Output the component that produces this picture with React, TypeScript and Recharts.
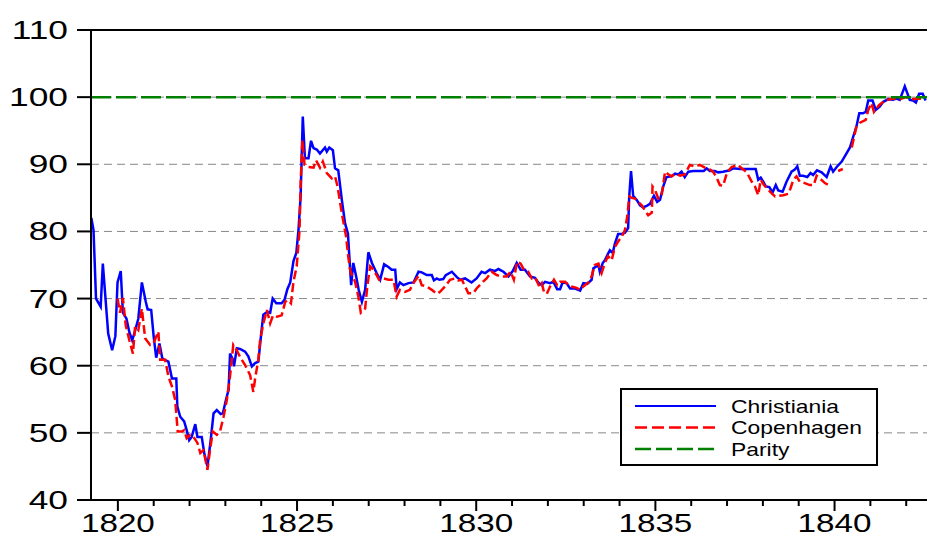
import React from 'react';
import { LineChart, Line, XAxis, YAxis, CartesianGrid, ReferenceLine, Legend } from 'recharts';

const christianiaYears = [
  1819.26,1819.32,1819.39,1819.52,1819.58,1819.73,1819.84,1819.93,1819.99,1820.08,
  1820.14,1820.24,1820.32,1820.40,1820.47,1820.57,1820.67,1820.78,1820.83,1820.93,
  1821.00,1821.07,1821.16,1821.24,1821.29,1821.41,1821.51,1821.63,1821.66,1821.74,
  1821.85,1821.92,1821.99,1822.06,1822.16,1822.22,1822.34,1822.41,1822.50,1822.59,
  1822.67,1822.76,1822.87,1822.93,1823.02,1823.09,1823.13,1823.21,1823.24,1823.32,
  1823.41,1823.55,1823.64,1823.74,1823.83,1823.92,1824.02,1824.06,1824.16,1824.25,
  1824.32,1824.42,1824.57,1824.65,1824.73,1824.81,1824.90,1824.98,1825.04,1825.10,
  1825.16,1825.22,1825.32,1825.39,1825.46,1825.55,1825.64,1825.78,1825.83,1825.90,
  1826.00,1826.06,1826.15,1826.25,1826.34,1826.42,1826.46,1826.51,1826.57,1826.65,
  1826.72,1826.81,1826.90,1826.99,1827.09,1827.22,1827.32,1827.43,1827.55,1827.64,
  1827.74,1827.78,1827.87,1827.97,1828.11,1828.25,1828.39,1828.48,1828.62,1828.76,
  1828.82,1828.90,1828.97,1829.08,1829.15,1829.32,1829.46,1829.55,1829.69,1829.87,
  1830.01,1830.15,1830.25,1830.38,1830.52,1830.62,1830.76,1830.90,1831.02,1831.13,
  1831.24,1831.36,1831.50,1831.64,1831.73,1831.83,1831.92,1832.06,1832.15,1832.26,
  1832.34,1832.41,1832.52,1832.62,1832.76,1832.90,1832.99,1833.10,1833.22,1833.27,
  1833.41,1833.45,1833.53,1833.59,1833.68,1833.73,1833.81,1833.87,1833.96,1834.06,
  1834.15,1834.24,1834.27,1834.32,1834.38,1834.48,1834.57,1834.66,1834.76,1834.85,
  1834.96,1835.05,1835.13,1835.22,1835.31,1835.45,1835.55,1835.64,1835.73,1835.82,
  1835.92,1836.06,1836.24,1836.35,1836.43,1836.52,1836.66,1836.75,1836.89,1837.08,
  1837.17,1837.36,1837.55,1837.80,1837.87,1837.94,1838.01,1838.08,1838.18,1838.27,
  1838.36,1838.43,1838.55,1838.66,1838.80,1838.89,1838.96,1839.03,1839.12,1839.24,
  1839.33,1839.40,1839.51,1839.64,1839.78,1839.89,1839.96,1840.06,1840.20,1840.33,
  1840.43,1840.52,1840.61,1840.69,1840.79,1840.87,1840.94,1841.06,1841.15,1841.26,
  1841.36,1841.50,1841.63,1841.73,1841.82,1841.96,1842.10,1842.19,1842.27,1842.36,
  1842.46,1842.54,
];

const christianiaValues = [
  82.0,80.2,70.0,68.8,75.2,64.8,62.3,64.4,72.4,74.1,
  67.9,67.0,65.0,63.8,65.0,67.0,72.4,69.5,68.4,68.3,
  64.3,61.2,63.3,61.1,60.9,60.6,58.1,58.1,53.9,52.4,
  51.7,50.4,48.9,49.4,51.3,49.4,49.4,47.0,45.0,48.9,
  52.9,53.4,52.8,52.9,55.0,56.4,61.8,60.9,59.9,62.6,
  62.5,62.1,61.4,59.9,60.4,60.6,65.8,67.6,68.0,67.9,
  70.0,69.3,69.3,69.8,71.4,72.4,75.6,76.8,80.2,85.2,
  97.1,90.9,90.9,93.5,92.4,92.2,91.6,92.5,91.9,92.5,
  92.1,89.4,89.1,84.7,81.2,79.7,76.2,72.0,75.3,73.3,
  71.3,69.5,71.3,76.9,75.3,73.8,72.8,75.1,74.7,74.3,
  74.3,71.4,72.4,72.0,72.3,72.4,74.0,73.9,73.5,73.5,
  72.7,73.0,72.8,72.9,73.5,74.0,73.2,72.8,73.0,72.4,
  73.0,74.0,73.8,74.3,74.1,74.4,74.0,73.3,74.1,75.3,
  74.3,74.3,73.3,73.1,72.4,72.0,72.5,72.3,72.5,71.4,
  71.4,72.4,72.3,71.5,71.5,71.2,72.3,72.2,72.8,74.5,
  75.0,74.0,75.3,75.7,76.7,77.2,76.8,78.2,79.6,79.6,
  79.8,80.5,85.2,89.0,85.3,84.7,83.9,83.6,83.8,84.1,
  85.3,84.4,84.7,86.7,88.1,88.2,88.6,88.5,88.9,88.1,
  88.9,89.0,89.0,89.0,89.4,89.0,89.0,88.8,88.9,89.1,
  89.4,89.3,89.3,89.3,87.7,88.0,87.4,86.7,86.6,85.8,
  86.9,86.1,85.9,87.4,88.9,89.2,89.7,88.3,88.3,88.1,
  88.7,88.4,89.1,88.8,88.1,89.7,88.9,89.6,90.4,91.6,
  92.5,94.1,95.6,97.6,97.6,97.8,99.5,99.5,98.1,98.6,
  99.3,99.7,99.6,99.8,99.6,101.6,99.6,99.5,99.2,100.5,
  100.5,99.5,
];

const copenhagenYears = [
  1819.99,1820.06,1820.14,1820.22,1820.32,1820.42,1820.48,1820.57,1820.67,1820.76,
  1820.90,1820.99,1821.13,1821.18,1821.32,1821.41,1821.51,1821.60,1821.67,1821.79,
  1821.85,1821.92,1822.02,1822.11,1822.22,1822.30,1822.39,1822.50,1822.57,1822.65,
  1822.76,1822.85,1822.95,1823.04,1823.13,1823.22,1823.32,1823.41,1823.55,1823.69,
  1823.78,1823.83,1823.92,1823.97,1824.06,1824.16,1824.25,1824.33,1824.44,1824.57,
  1824.67,1824.73,1824.83,1824.90,1824.99,1825.07,1825.10,1825.15,1825.21,1825.32,
  1825.46,1825.53,1825.64,1825.72,1825.83,1825.97,1826.06,1826.13,1826.25,1826.37,
  1826.43,1826.48,1826.53,1826.62,1826.71,1826.78,1826.90,1826.96,1827.04,1827.13,
  1827.22,1827.29,1827.41,1827.55,1827.69,1827.78,1827.87,1828.01,1828.15,1828.25,
  1828.39,1828.48,1828.62,1828.76,1828.90,1828.99,1829.13,1829.27,1829.41,1829.50,
  1829.60,1829.69,1829.78,1829.92,1830.01,1830.15,1830.29,1830.43,1830.57,1830.71,
  1830.85,1830.96,1831.05,1831.14,1831.24,1831.33,1831.45,1831.55,1831.64,1831.76,
  1831.83,1831.89,1831.97,1832.06,1832.17,1832.26,1832.34,1832.48,1832.57,1832.66,
  1832.80,1832.90,1832.99,1833.13,1833.22,1833.31,1833.41,1833.50,1833.59,1833.68,
  1833.78,1833.87,1833.96,1834.06,1834.15,1834.22,1834.27,1834.34,1834.43,1834.52,
  1834.62,1834.71,1834.80,1834.90,1834.92,1834.99,1835.08,1835.17,1835.27,1835.36,
  1835.45,1835.55,1835.69,1835.82,1835.96,1836.10,1836.24,1836.38,1836.47,1836.61,
  1836.71,1836.80,1836.89,1837.00,1837.13,1837.31,1837.41,1837.55,1837.69,1837.78,
  1837.87,1837.94,1838.03,1838.12,1838.24,1838.34,1838.46,1838.57,1838.71,1838.77,
  1838.85,1838.94,1839.03,1839.17,1839.31,1839.42,1839.50,1839.59,1839.73,1839.87,
  1839.98,1840.10,1840.23,1840.35,
  1840.48,1840.61,1840.71,1840.87,1840.94,1841.03,1841.10,1841.24,1841.40,1841.63,
  1841.82,1841.99,1842.16,1842.32,1842.52,
];

const copenhagenValues = [
  70.0,67.9,70.1,66.0,63.8,61.8,65.8,65.3,68.5,64.1,
  63.1,63.3,65.1,60.9,60.9,58.4,56.9,54.9,50.2,50.2,
  50.4,49.2,49.7,49.4,48.5,47.0,47.4,44.5,47.4,50.2,
  49.7,50.2,52.4,54.9,58.4,63.1,62.3,61.3,60.1,58.6,
  56.1,58.1,60.9,63.8,66.3,68.3,66.3,67.5,67.3,67.5,
  69.5,69.8,69.3,72.5,74.8,80.2,87.2,93.6,89.9,89.6,
  89.5,90.6,89.5,90.4,88.7,87.9,88.2,86.7,82.7,79.2,
  76.2,74.3,73.5,72.5,70.3,67.9,68.5,71.8,74.8,74.3,
  73.5,72.8,73.0,72.8,72.8,70.3,71.3,71.0,71.3,72.3,
  73.4,72.0,71.8,71.3,70.7,71.0,71.8,72.8,73.0,72.7,
  72.8,71.8,70.8,70.8,71.5,72.3,73.0,74.0,73.5,73.3,
  73.3,74.0,72.8,75.5,75.2,74.3,74.0,73.0,73.2,71.8,
  72.3,71.0,70.7,71.8,72.8,72.0,72.5,72.5,72.0,71.8,
  71.6,71.3,71.8,72.4,73.3,75.0,75.2,73.8,75.3,76.3,
  75.7,77.7,78.5,79.2,80.2,82.4,85.2,85.0,84.9,84.4,
  83.9,83.1,82.4,82.8,86.7,86.2,84.9,85.2,88.9,88.5,
  88.2,88.6,88.3,88.5,89.9,89.7,89.9,89.5,89.4,88.9,
  88.0,86.9,86.8,88.8,89.6,89.9,89.4,88.8,87.4,86.7,
  85.4,87.7,86.9,86.4,85.7,85.2,85.3,85.4,85.6,86.4,
  87.7,88.2,87.4,87.2,86.9,86.9,88.3,87.9,87.2,86.8,
  null,89.0,89.3,null,
  92.5,95.6,96.2,96.6,98.1,99.1,97.8,98.8,99.5,99.8,
  99.7,100.0,99.7,99.8,99.7,
];

const parityYears = [1819.25, 1842.58];
const parityValues = [100, 100];

const xTicks = [1820,1821,1822,1823,1824,1825,1826,1827,1828,1829,1830,1831,1832,1833,1834,1835,1836,1837,1838,1839,1840,1841,1842];
const xLabelYears = [1820, 1825, 1830, 1835, 1840];
const yTicks = [40, 50, 60, 70, 80, 90, 100, 110];

const legendItems = [
  { name: 'Christiania', color: '#0000FF', dash: undefined as string | undefined, width: 2 },
  { name: 'Copenhagen', color: '#FF0000', dash: '12 5', width: 2.5 },
  { name: 'Parity', color: '#008000', dash: '16 5', width: 2.5 },
];

const toPoints = (xs: number[], vs: (number | null)[]) => xs.map((x, i) => ({ x, v: vs[i] }));

const christianiaData = toPoints(christianiaYears, christianiaValues);
const copenhagenData = toPoints(copenhagenYears, copenhagenValues);
const parityData = toPoints(parityYears, parityValues);

const FONT = '"Liberation Sans", Arial, sans-serif';

const XTick = (props: any) => {
  const { x, y, payload } = props;
  const v = payload.value;
  const major = xLabelYears.includes(v);
  return (
    <g>
      <line x1={x} x2={x} y1={y} y2={y + (major ? 11 : 6)} stroke="#000" strokeWidth={2} />
      {major && (
        <g transform={`translate(${x},${y + 32}) scale(1.33,1)`}>
          <text x={0} y={0} textAnchor="middle" fontFamily={FONT} fontSize={25} fill="#000">{v}</text>
        </g>
      )}
    </g>
  );
};

const YTick = (props: any) => {
  const { x, y, payload } = props;
  return (
    <g>
      <line x1={x - 14} x2={x} y1={y} y2={y} stroke="#000" strokeWidth={2} />
      <g transform={`translate(${x - 23},${y + 9}) scale(1.36,1)`}>
        <text x={0} y={0} textAnchor="end" fontFamily={FONT} fontSize={26} fill="#000">{payload.value}</text>
      </g>
    </g>
  );
};

const LegendBox = () => (
  <svg width={258} height={78} style={{ display: 'block' }}>
    <rect x={1} y={1} width={256} height={76} fill="#fff" stroke="#000" strokeWidth={2} />
    {legendItems.map((it, i) => {
      const ly = 18 + i * 21.5;
      return (
        <g key={it.name}>
          <line x1={15} x2={96} y1={ly} y2={ly} stroke={it.color} strokeWidth={it.width} strokeDasharray={it.dash} />
          <g transform={`translate(111,${ly + 6.5}) scale(1.27,1)`}>
            <text x={0} y={0} fontFamily={FONT} fontSize={18} fill="#000">{it.name}</text>
          </g>
        </g>
      );
    })}
  </svg>
);

export default function App() {
  return (
    <div style={{ position: 'absolute', left: 0, top: 0, width: 927, height: 537, background: '#fff' }}>
      <LineChart width={927} height={537} margin={{ top: 30, right: 0, bottom: 0, left: 0 }}>
        <CartesianGrid horizontal vertical={false} stroke="#888" strokeDasharray="8 5" strokeWidth={1} />
        <XAxis
          type="number"
          dataKey="x"
          domain={[1819.25, 1842.58]}
          ticks={xTicks}
          allowDataOverflow
          tick={XTick}
          tickLine={false}
          tickSize={0}
          tickMargin={0}
          axisLine={{ stroke: '#000', strokeWidth: 2 }}
          height={37}
          interval={0}
        />
        <YAxis
          type="number"
          domain={[40, 110]}
          ticks={yTicks}
          tick={YTick}
          tickLine={false}
          tickSize={0}
          tickMargin={0}
          axisLine={{ stroke: '#000', strokeWidth: 2 }}
          width={91}
          interval={0}
        />
        <ReferenceLine y={110} stroke="#000" strokeWidth={2} />
        <Line data={christianiaData} dataKey="v" name="Christiania" type="linear" stroke="#0000FF" strokeWidth={2.5} dot={false} isAnimationActive={false} />
        <Line data={copenhagenData} dataKey="v" name="Copenhagen" type="linear" stroke="#FF0000" strokeWidth={2.5} strokeDasharray="9 4" dot={false} connectNulls={false} isAnimationActive={false} />
        <Line data={parityData} dataKey="v" name="Parity" type="linear" stroke="#008000" strokeWidth={2.5} strokeDasharray="20 5" dot={false} isAnimationActive={false} />
        <Legend
          layout="vertical"
          align="center"
          verticalAlign="middle"
          content={LegendBox}
          wrapperStyle={{ position: 'absolute', left: 620, top: 388, width: 258, height: 78 }}
        />
      </LineChart>
    </div>
  );
}
